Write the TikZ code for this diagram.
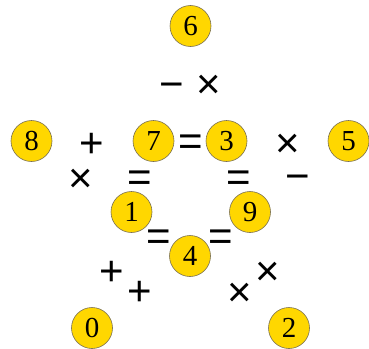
\documentclass[tikz,border=0pt]{standalone}
\usepackage{fontspec}
\setmainfont{Liberation Serif}
\newfontfamily\opfont{Liberation Sans}
\definecolor{ballfill}{RGB}{255,215,0}
\definecolor{balledge}{RGB}{120,110,80}
\begin{document}
\begin{tikzpicture}[x=1pt,y=-1pt,
  ball/.style={circle,fill=ballfill,draw=balledge,line width=0.6pt,minimum size=41pt,inner sep=0pt,font=\fontsize{29}{30}\selectfont},
  op/.style={inner sep=0pt,anchor=base,yshift=-14pt,font=\opfont\fontsize{42}{44}\selectfont}]
\useasboundingbox (0,0) rectangle (369,348);
\node[ball] (n6) at (190.5,26) {6};
\node[ball] (n8) at (31.5,141) {8};
\node[ball] (n7) at (153.5,141) {7};
\node[ball] (n3) at (226.5,141) {3};
\node[ball] (n5) at (348.5,141) {5};
\node[ball] (n1) at (131.5,212) {1};
\node[ball] (n9) at (250,212) {9};
\node[ball] (n4) at (190,256) {4};
\node[ball] (n0) at (92,328) {0};
\node[ball] (n2) at (289,328) {2};
\node[op] (o1) at (172,84) {−};
\node[op] (o2) at (209,84) {×};
\node[op] (o3) at (92,143) {+};
\node[op] (o4) at (191,141) {=};
\node[op] (o5) at (288,143) {×};
\node[op] (o6) at (81,178) {×};
\node[op] (o7) at (140,177) {=};
\node[op] (o8) at (239,177) {=};
\node[op] (o9) at (298,176) {−};
\node[op] (o10) at (159,236) {=};
\node[op] (o11) at (221,236) {=};
\node[op] (o12) at (112,271) {+};
\node[op] (o13) at (140,291) {+};
\node[op] (o14) at (268,271) {×};
\node[op] (o15) at (240,292) {×};
\end{tikzpicture}
\end{document}
